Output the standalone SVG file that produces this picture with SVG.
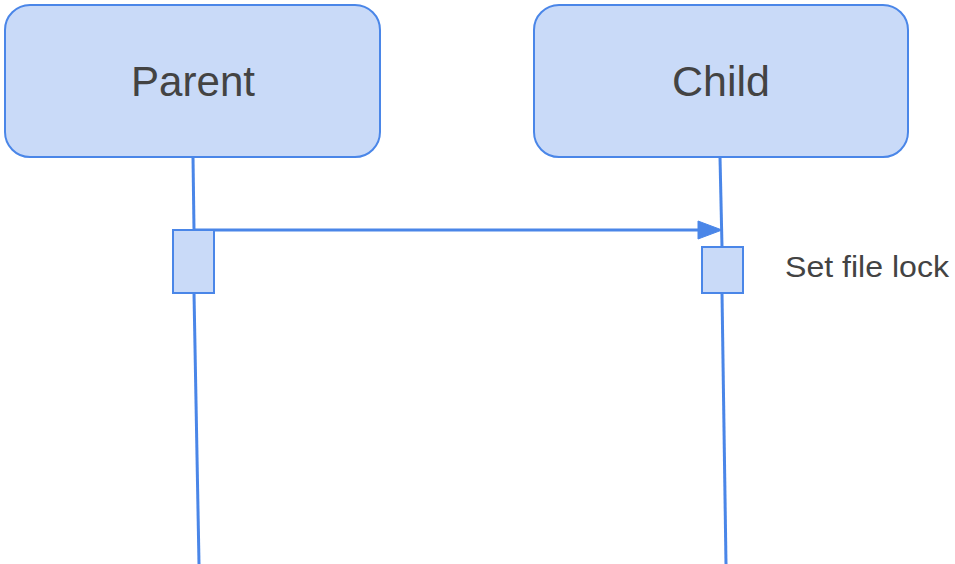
<svg xmlns="http://www.w3.org/2000/svg" width="955" height="564" viewBox="0 0 955 564">
<style>
.box{fill:#c9daf8;stroke:#4a86e8;stroke-width:2}
.lbl{font-family:"Liberation Sans",Arial,sans-serif;fill:#434343}
.ln{stroke:#4a86e8;stroke-width:3;fill:none}
</style>
<rect width="955" height="564" fill="#ffffff"/>
<g id="connectors">
<line class="ln" x1="193" y1="157" x2="194" y2="230"/>
<line class="ln" x1="194" y1="293" x2="199" y2="564"/>
<line class="ln" x1="720" y1="157" x2="722" y2="247"/>
<line class="ln" x1="722" y1="293" x2="726" y2="564"/>
<line class="ln" x1="194" y1="230" x2="700" y2="230"/>
<polygon points="698,221 722,230 698,239" fill="#4a86e8" stroke="#4a86e8" stroke-width="1"/>
</g>
<g id="parent">
<rect class="box" x="5" y="5" width="375" height="152" rx="25"/>
<text class="lbl" x="193" y="96" font-size="43" text-anchor="middle" textLength="124" lengthAdjust="spacingAndGlyphs">Parent</text>
</g>
<g id="child">
<rect class="box" x="534" y="5" width="374" height="152" rx="25"/>
<text class="lbl" x="721" y="96" font-size="43" text-anchor="middle" textLength="98" lengthAdjust="spacingAndGlyphs">Child</text>
</g>
<g id="parent-activation">
<rect class="box" x="173" y="230" width="41" height="63"/>
</g>
<g id="child-activation">
<rect class="box" x="702" y="247" width="41" height="46"/>
</g>
<g id="label-lock">
<text class="lbl" x="785" y="277" font-size="30" textLength="164" lengthAdjust="spacingAndGlyphs">Set file lock</text>
</g>
</svg>
